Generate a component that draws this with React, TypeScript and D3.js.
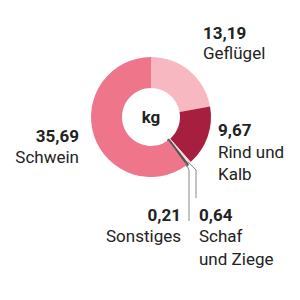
import React from "react";
import * as d3 from "d3";

const categories = ["Geflügel", "Rind und Kalb", "Schaf und Ziege", "Sonstiges", "Schwein"];
const values = [13.19, 9.67, 0.64, 0.21, 35.69];
const valueLabels = ["13,19", "9,67", "0,64", "0,21", "35,69"];
const colors = ["#f7b8c2", "#a61f3f", "#fad7dd", "#555555", "#ee758a"];

const cx = 151, cy = 117, R = 60, r = 29;

export default function App() {
  const pie = d3.pie<number>().sort(null).value((d) => d);
  const arcs = pie(values);
  const arc = d3.arc<d3.PieArcDatum<number>>().innerRadius(r).outerRadius(R);
  const outer = (a: d3.PieArcDatum<number>, rad: number) => {
    const m = (a.startAngle + a.endAngle) / 2;
    return [cx + rad * Math.sin(m), cy - rad * Math.cos(m)];
  };
  const font = "Roboto, 'Noto Sans', sans-serif";
  const txt = { fontFamily: font, fontSize: 17, fill: "#222" } as const;
  const schaf = outer(arcs[2], R - 2);
  const sonst = outer(arcs[3], R - 3);
  return (
    <svg width={300} height={300} style={{ position: "absolute", left: 0, top: 0 }}>
      <g transform={`translate(${cx},${cy})`}>
        {arcs.map((a, i) => (
          <path key={i} d={arc(a) || ""} fill={colors[i]} stroke={i === 3 ? colors[i] : "none"} strokeWidth={2.4} strokeLinejoin="round" />
        ))}
      </g>
      <polyline points={`${sonst[0]},${sonst[1]} 189,170 189,221`} fill="none" stroke="#888" strokeWidth={1} />
      <polyline points={`${schaf[0]},${schaf[1]} 196,170 196,198`} fill="none" stroke="#888" strokeWidth={1} />
      <text x={cx} y={cy + 6} textAnchor="middle" style={{ ...txt, fontWeight: 700 }}>kg</text>

      <text x={203} y={39} style={{ ...txt, fontWeight: 700 }}>{valueLabels[0]}</text>
      <text x={203} y={59} style={txt}>{categories[0]}</text>

      <text x={218} y={136} style={{ ...txt, fontWeight: 700 }}>{valueLabels[1]}</text>
      <text x={218} y={158} style={txt}>Rind und</text>
      <text x={218} y={180} style={txt}>Kalb</text>

      <text x={79} y={142} textAnchor="end" style={{ ...txt, fontWeight: 700 }}>{valueLabels[4]}</text>
      <text x={79} y={163} textAnchor="end" style={txt}>{categories[4]}</text>

      <text x={181} y={221} textAnchor="end" style={{ ...txt, fontWeight: 700 }}>{valueLabels[3]}</text>
      <text x={181} y={242} textAnchor="end" style={txt}>{categories[3]}</text>

      <text x={199} y={221} style={{ ...txt, fontWeight: 700 }}>{valueLabels[2]}</text>
      <text x={199} y={242} style={txt}>Schaf</text>
      <text x={199} y={265} style={txt}>und Ziege</text>
    </svg>
  );
}
